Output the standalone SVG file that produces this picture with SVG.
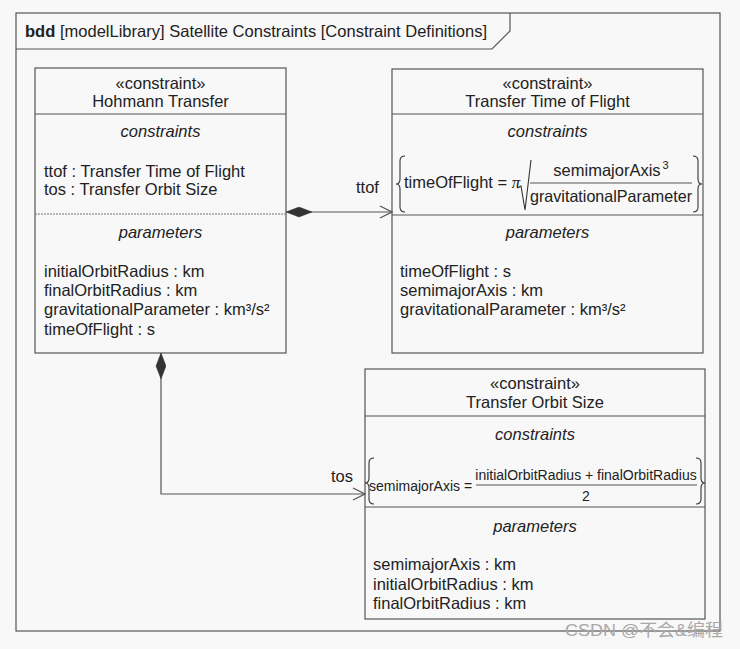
<svg xmlns="http://www.w3.org/2000/svg" width="740" height="649" viewBox="0 0 740 649">
<style>
text{font-family:"Liberation Sans",Arial,sans-serif;font-size:16.5px;fill:#222}
.c{text-anchor:middle}
.i{font-style:italic}
.eq{font-size:14px}
.box{fill:none;stroke:#555;stroke-width:1.2}
.sep{stroke:#555;stroke-width:1}
.dot{stroke:#777;stroke-width:1;stroke-dasharray:2 1}
.ln{fill:none;stroke:#555;stroke-width:1.2}
.br{fill:none;stroke:#333;stroke-width:1.1}
.wm{font-family:"Liberation Sans","Noto Sans CJK SC",sans-serif;font-size:17px;fill:#a8a8a8}
</style>
<defs>
<marker id="dia" markerUnits="userSpaceOnUse" markerWidth="28" markerHeight="12" refX="0" refY="5" orient="auto">
<path d="M0,5 L13,0 L26,5 L13,10 Z" fill="#333" stroke="#333" stroke-width="0.5"/>
</marker>
<marker id="arr" markerUnits="userSpaceOnUse" markerWidth="14" markerHeight="14" refX="13" refY="7" orient="auto">
<path d="M1,1 L13,7 L1,13" fill="none" stroke="#555" stroke-width="1.2"/>
</marker>
</defs>
<rect x="0" y="0" width="740" height="649" fill="#f8f8f8"/>

<g id="frame">
<rect x="16" y="13" width="704" height="618" class="box"/>
<path d="M16,49 L492,49 L510,31 L510,13" class="ln"/>
<text x="25" y="37" textLength="462" lengthAdjust="spacingAndGlyphs"><tspan font-weight="bold">bdd</tspan> [modelLibrary] Satellite Constraints [Constraint Definitions]</text>
</g>

<g id="connectors">
<path d="M286,212 L392,212" class="ln" marker-start="url(#dia)" marker-end="url(#arr)"/>
<text x="356" y="193">ttof</text>
<path d="M161,353 L161,494 L365,494" class="ln" marker-start="url(#dia)" marker-end="url(#arr)"/>
<text x="331" y="482">tos</text>
</g>

<g id="hohmann-transfer">
<rect x="35" y="68" width="251" height="285" class="box"/>
<line x1="35" y1="114" x2="286" y2="114" class="sep"/>
<line x1="35" y1="214" x2="286" y2="214" class="dot"/>
<text x="160.5" y="89" class="c">«constraint»</text>
<text x="160.5" y="107" class="c">Hohmann Transfer</text>
<text x="160.5" y="137" class="c i">constraints</text>
<text x="44" y="177">ttof : Transfer Time of Flight</text>
<text x="44" y="195">tos : Transfer Orbit Size</text>
<text x="160.5" y="238" class="c i">parameters</text>
<text x="44" y="277">initialOrbitRadius : km</text>
<text x="44" y="296">finalOrbitRadius : km</text>
<text x="44" y="315">gravitationalParameter : km³/s²</text>
<text x="44" y="335">timeOfFlight : s</text>
</g>

<g id="transfer-time-of-flight">
<rect x="392" y="69" width="311" height="284" class="box"/>
<line x1="392" y1="114" x2="703" y2="114" class="sep"/>
<line x1="392" y1="215" x2="703" y2="215" class="sep"/>
<text x="547.5" y="89" class="c">«constraint»</text>
<text x="547.5" y="107" class="c">Transfer Time of Flight</text>
<text x="547.5" y="137" class="c i">constraints</text>
<path d="M405,156 Q400,156 400,161 L400,179 Q400,184 396,184 Q400,184 400,189 L400,207 Q400,212 405,212" class="br"/>
<path d="M693,156 Q698,156 698,161 L698,179 Q698,184 702,184 Q698,184 698,189 L698,207 Q698,212 693,212" class="br"/>
<text x="404" y="188" font-size="15.5">timeOfFlight = <tspan font-family="Liberation Serif,serif" font-style="italic" font-size="17">π</tspan></text>
<path d="M517,188 L521,186 L525,210 L531,160" class="br"/>
<text x="611" y="176" class="c">semimajorAxis<tspan dx="2" dy="-7" font-size="11">3</tspan></text>
<line x1="530" y1="183" x2="692" y2="183" class="sep"/>
<text x="530" y="202" textLength="162" lengthAdjust="spacingAndGlyphs">gravitationalParameter</text>
<text x="547.5" y="238" class="c i">parameters</text>
<text x="400" y="277">timeOfFlight : s</text>
<text x="400" y="296">semimajorAxis : km</text>
<text x="400" y="315">gravitationalParameter : km³/s²</text>
</g>

<g id="transfer-orbit-size">
<rect x="365" y="369" width="340" height="250" class="box"/>
<line x1="365" y1="416" x2="705" y2="416" class="sep"/>
<line x1="365" y1="507" x2="705" y2="507" class="sep"/>
<text x="535" y="389" class="c">«constraint»</text>
<text x="535" y="408" class="c">Transfer Orbit Size</text>
<text x="535" y="440" class="c i">constraints</text>
<path d="M374,458 Q369,458 369,463 L369,478 Q369,483 365,483 Q369,483 369,488 L369,499 Q369,504 374,504" class="br"/>
<path d="M696,458 Q701,458 701,463 L701,478 Q701,483 705,483 Q701,483 701,488 L701,499 Q701,504 696,504" class="br"/>
<text x="369" y="491" class="eq">semimajorAxis =</text>
<text x="586" y="480" class="c eq">initialOrbitRadius + finalOrbitRadius</text>
<line x1="476" y1="485" x2="697" y2="485" class="sep"/>
<text x="586" y="501" class="c eq">2</text>
<text x="535" y="532" class="c i">parameters</text>
<text x="373" y="570">semimajorAxis : km</text>
<text x="373" y="590">initialOrbitRadius : km</text>
<text x="373" y="609">finalOrbitRadius : km</text>
</g>

<text x="565" y="636" class="wm" textLength="158" lengthAdjust="spacingAndGlyphs">CSDN @不会&amp;编程</text>
</svg>
